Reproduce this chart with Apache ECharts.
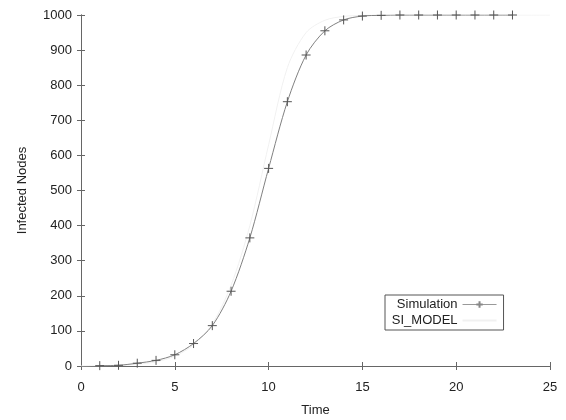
<!DOCTYPE html>
<html>
<head>
<meta charset="UTF-8" />
<script src="https://cdn.jsdelivr.net/npm/echarts@6/dist/echarts.min.js"></script>
<title>SI model</title>
<style>
  body { margin: 0; background: #fff; }
  #chart { width: 566px; height: 420px; }
</style>
</head>
<body>
<div id="chart"></div>
<script>
// values
var simTime = [1, 2, 3, 4, 5, 6, 7, 8, 9, 10, 11, 12, 13, 14, 15, 16, 17, 18, 19, 20, 21, 22, 23]
var simInfected = [1, 2, 8, 16, 32, 64, 115, 213, 365, 563, 753, 886, 955, 986, 997, 999, 1000, 1000, 1000, 1000, 1000, 1000, 1000]

var modelTime = [0, 1, 2, 3, 4, 5, 6, 7, 8, 9, 10, 11, 12, 13, 14, 15, 16, 17, 18, 19, 20, 21, 22, 23, 24, 25]
var modelInfected = [0, 1, 2, 5, 12, 28, 60, 120, 230, 400, 630, 850, 950, 985, 996, 999, 1000, 1000, 1000, 1000, 1000, 1000, 1000, 1000, 1000, 1000]

function pairs(xs, ys) {
  var out = []
  for (var i = 0; i < xs.length; i++) out.push([xs[i], ys[i]])
  return out
}

var chart = echarts.init(document.getElementById('chart'))
var font = 'Liberation Sans'
var axisCol = '#666'
var textCol = '#222'

var axisBase = {
  type: 'value',
  axisLine: { show: true, lineStyle: { color: axisCol, width: 1 } },
  axisTick: { show: true, inside: true, length: 4, lineStyle: { color: axisCol } },
  splitLine: { show: false },
  axisLabel: { color: textCol, fontFamily: font, fontSize: 13 }
}

var option = {
  animation: false,
  backgroundColor: '#fff',
  grid: { left: 81, right: 16, top: 15, bottom: 54, outerBoundsMode: 'none' },
  legend: {
    orient: 'vertical',
    left: 385,
    top: 295,
    align: 'right',
    padding: [3, 6, 3, 1],
    itemGap: 3,
    itemWidth: 34,
    itemHeight: 8,
    borderColor: '#555',
    borderWidth: 1,
    // gnuplot right-justifies the key text
    formatter: function (name) { return name === 'Simulation' ? '   ' + name : name },
    textStyle: { color: textCol, fontFamily: font, fontSize: 13 },
    data: [
      { name: 'Simulation', lineStyle: { color: '#999', width: 1 }, itemStyle: { borderColor: '#888' } },
      { name: 'SI_MODEL', itemStyle: { opacity: 0 } }
    ]
  },
  xAxis: [
    Object.assign({}, axisBase, {
      min: 0, max: 25, interval: 5,
      name: 'Time', nameLocation: 'middle', nameGap: 38,
      nameTextStyle: { color: textCol, fontFamily: font, fontSize: 13 },
      axisLabel: { color: textCol, fontFamily: font, fontSize: 13, margin: 15 }
    }),
    Object.assign({}, axisBase, {
      min: 0, max: 25, interval: 5, position: 'top',
      axisLabel: { show: false }
    })
  ],
  yAxis: [
    Object.assign({}, axisBase, {
      min: 0, max: 1000, interval: 100,
      name: 'Infected Nodes', nameLocation: 'middle', nameGap: 52,
      nameTextStyle: { color: textCol, fontFamily: font, fontSize: 13 },
      axisLabel: {
        color: textCol, fontFamily: font, fontSize: 13, margin: 9,
        formatter: function (v) { return String(v) }
      }
    }),
    Object.assign({}, axisBase, {
      min: 0, max: 1000, interval: 100, position: 'right',
      axisLabel: { show: false }
    })
  ],
  series: [
    {
      name: 'SI_MODEL',
      type: 'line',
      smooth: 0.3,
      symbol: 'none',
      lineStyle: { color: '#f1f1f1', width: 1 },
      itemStyle: { color: '#f1f1f1' },
      data: pairs(modelTime, modelInfected)
    },
    {
      name: 'Simulation',
      type: 'line',
      smooth: 0.3,
      symbol: 'path://M0,5L10,5M5,0L5,10',
      symbolSize: 9,
      lineStyle: { color: '#808080', width: 1 },
      itemStyle: { color: 'rgba(0,0,0,0)', borderColor: '#555', borderWidth: 1 },
      data: pairs(simTime, simInfected)
    }
  ]
}
chart.setOption(option)
</script>
</body>
</html>
